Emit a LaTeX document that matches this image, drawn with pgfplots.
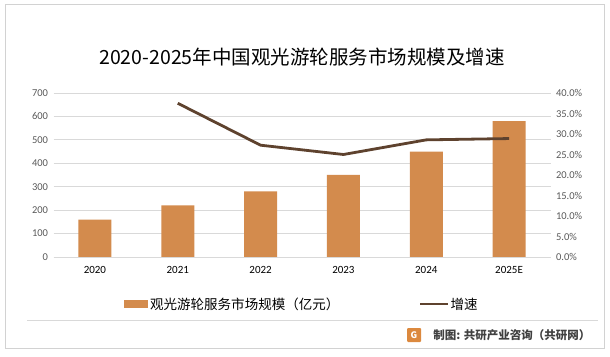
\documentclass[border=0pt]{standalone}
\usepackage{pgfplots}
\pgfplotsset{compat=1.18}
\usepackage{fontspec}
\setmainfont{Carlito}
\newfontfamily\cjk{Noto Sans CJK SC}
\definecolor{barcol}{RGB}{211,139,77}
\definecolor{linecol}{RGB}{94,66,46}
\definecolor{gridcol}{RGB}{217,217,217}
\definecolor{tickcol}{RGB}{89,89,89}
\definecolor{framecol}{RGB}{210,210,210}
\begin{document}
\begin{tikzpicture}[x=1pt,y=1pt]
\path[use as bounding box] (0,0) rectangle (610,356);
\draw[framecol, line width=1pt] (5,8) rectangle (604,351);
\node[font=\cjk\fontsize{19.5}{22}\selectfont, text=black] at (302,299) {2020-2025年中国观光游轮服务市场规模及增速};
\begin{axis}[
  at={(53.5pt,99pt)}, anchor=south west,
  scale only axis, width=497pt, height=164pt,
  xmin=-0.5, xmax=5.5, ymin=0, ymax=700,
  xtick={0,1,2,3,4,5},
  xticklabels={2020,2021,2022,2023,2024,2025E},
  ytick={0,100,...,700},
  axis x line*=bottom, axis y line*=left,
  x axis line style={gridcol, line width=0.8pt, -},
  y axis line style={draw=none},
  major tick length=0pt,
  ymajorgrids, grid style={gridcol, line width=0.8pt},
  tick label style={font=\fontsize{10.5}{12}\selectfont, text=tickcol},
  xticklabel style={yshift=-6pt, text=black, font=\fontsize{11}{12}\selectfont},
  yticklabel style={xshift=-2pt},
  /pgf/number format/assume math mode=true,
  legend columns=2,
  legend style={at={(0.5,-0.287)}, anchor=center, draw=none, fill=none,
    font=\cjk\fontsize{13.5}{15}\selectfont, text=black,
    /tikz/every even column/.append style={column sep=78pt}},
  legend cell align=left,
]
\addplot[ybar, bar width=33pt, fill=barcol, draw=none, bar shift=0pt,
  legend image code/.code={\fill[barcol] (0pt,-4pt) rectangle (24pt,4pt);}]
  coordinates {(0,160) (1,220) (2,280) (3,350) (4,450) (5,580)};
\addlegendentry{观光游轮服务市场规模（亿元）}
\addlegendimage{legend image code/.code={\draw[linecol, line width=2.5pt] (0pt,0pt) -- (27pt,0pt);}}
\addlegendentry{增速}
\end{axis}
\begin{axis}[
  at={(53.5pt,99pt)}, anchor=south west,
  scale only axis, width=497pt, height=164pt,
  xmin=-0.5, xmax=5.5, ymin=0, ymax=0.4,
  axis x line=none, axis y line*=right,
  y axis line style={draw=none},
  major tick length=0pt,
  ytick={0,0.05,...,0.41},
  yticklabel={\pgfmathparse{\tick*100}\pgfmathprintnumber[fixed,fixed zerofill,precision=1]{\pgfmathresult}\%},
  tick label style={font=\fontsize{10.5}{12}\selectfont, text=tickcol},
  yticklabel style={xshift=2pt},
  /pgf/number format/assume math mode=true,
]
\addplot[linecol, line width=2.8pt, line join=round, mark=none]
  coordinates {(1,0.375) (2,0.2727) (3,0.25) (4,0.2857) (5,0.2889)};
\end{axis}
\draw[gridcol, line width=0.8pt] (27,36) -- (598,36);
\fill[barcol!80!orange, rounded corners=1pt] (407,14) rectangle (421,28);
\node[font=\bfseries\cjk\fontsize{9}{10}\selectfont, text=white] at (414,21) {G};
\node[anchor=east, font=\cjk\bfseries\fontsize{11.5}{13}\selectfont, text=black!75] at (594,21) {制图: 共研产业咨询（共研网）};
\end{tikzpicture}
\end{document}
